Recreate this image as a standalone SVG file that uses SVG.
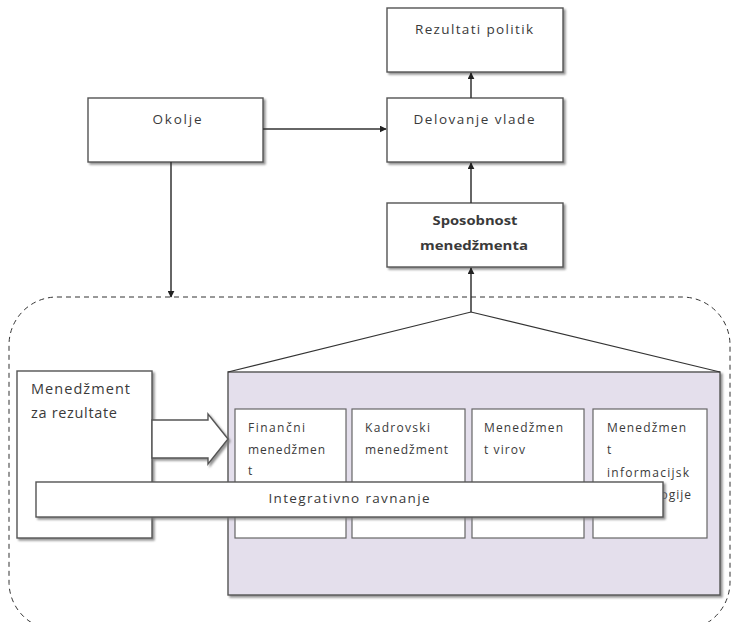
<svg xmlns="http://www.w3.org/2000/svg" width="733" height="622" viewBox="0 0 733 622">
<style>
.box{fill:#fff;stroke:#555;stroke-width:1.4}
.ibox{fill:#fff;stroke:#666;stroke-width:1.2}
.t{font-family:"Open Sans","Liberation Sans",Arial,sans-serif;fill:#3a3a3a}
.c{stroke:#333;stroke-width:1.5;fill:none}
</style>
<defs>
<filter id="sh" x="-10%" y="-10%" width="130%" height="130%">
<feDropShadow dx="2" dy="2" stdDeviation="0.8" flood-color="#777" flood-opacity="0.8"/>
</filter>
<marker id="ah" viewBox="0 0 10 10" refX="9" refY="5" markerWidth="7" markerHeight="7" orient="auto" markerUnits="userSpaceOnUse">
<path d="M0,0 L10,5 L0,10 z" fill="#222"/>
</marker>
</defs>
<rect x="0" y="0" width="733" height="622" fill="#fff"/>

<g id="container">
<rect x="9" y="297" width="721" height="333" rx="48" ry="48" fill="none" stroke="#333" stroke-width="1" stroke-dasharray="5 4"/>
</g>

<g id="rezultati">
<rect class="box" x="387" y="8" width="176" height="64" filter="url(#sh)"/>
<text class="t" x="474" y="34" font-size="13.5" text-anchor="middle" textLength="118" lengthAdjust="spacing">Rezultati politik</text>
</g>
<g id="delovanje">
<rect class="box" x="387" y="98" width="176" height="64" filter="url(#sh)"/>
<text class="t" x="474" y="124" font-size="13.5" text-anchor="middle" textLength="121" lengthAdjust="spacing">Delovanje vlade</text>
</g>
<g id="okolje">
<rect class="box" x="88" y="98" width="175" height="64" filter="url(#sh)"/>
<text class="t" x="177" y="124" font-size="13.5" text-anchor="middle" textLength="49" lengthAdjust="spacing">Okolje</text>
</g>
<g id="sposobnost">
<rect class="box" x="387" y="203" width="176" height="64" filter="url(#sh)"/>
<text class="t" x="475" y="225" font-size="13" font-weight="bold" text-anchor="middle" textLength="85" lengthAdjust="spacingAndGlyphs">Sposobnost</text>
<text class="t" x="474" y="250" font-size="13" font-weight="bold" text-anchor="middle" textLength="108" lengthAdjust="spacingAndGlyphs">menedžmenta</text>
</g>

<g id="podrocja">
<rect x="228" y="372" width="492" height="223" fill="#e4dfec" stroke="#555" stroke-width="1.4" filter="url(#sh)"/>
</g>
<g id="financni">
<rect class="ibox" x="235" y="409" width="111" height="129"/>
<text class="t" font-size="12"><tspan x="248" y="432" textLength="57" lengthAdjust="spacing">Finančni</tspan><tspan x="248" y="454" textLength="77" lengthAdjust="spacing">menedžmen</tspan><tspan x="248" y="475">t</tspan></text>
</g>
<g id="kadrovski">
<rect class="ibox" x="352" y="409" width="113" height="129"/>
<text class="t" font-size="12"><tspan x="365" y="432" textLength="65" lengthAdjust="spacing">Kadrovski</tspan><tspan x="365" y="454" textLength="83" lengthAdjust="spacing">menedžment</tspan></text>
</g>
<g id="viri">
<rect class="ibox" x="472" y="409" width="112" height="129"/>
<text class="t" font-size="12"><tspan x="484" y="432" textLength="79" lengthAdjust="spacing">Menedžmen</tspan><tspan x="484" y="454" textLength="41" lengthAdjust="spacing">t virov</tspan></text>
</g>
<g id="informacijska">
<rect class="ibox" x="593" y="409" width="114" height="129"/>
<text class="t" font-size="12"><tspan x="607" y="432" textLength="79" lengthAdjust="spacing">Menedžmen</tspan><tspan x="607" y="454">t</tspan><tspan x="607" y="477" textLength="82" lengthAdjust="spacing">informacijsk</tspan><tspan x="607" y="499" textLength="84" lengthAdjust="spacing">e tehnologije</tspan></text>
</g>

<g id="rezultati-menedzment">
<rect class="box" x="17" y="371" width="135" height="167" filter="url(#sh)"/>
<text class="t" font-size="14.5"><tspan x="31" y="394" textLength="99" lengthAdjust="spacing">Menedžment</tspan><tspan x="31" y="418" textLength="86" lengthAdjust="spacing">za rezultate</tspan></text>
</g>
<g id="blok-puscica">
<polygon points="152,420 208,420 208,414 228,439 208,464 208,458 152,458" fill="#fff" stroke="#555" stroke-width="1.4" filter="url(#sh)"/>
</g>
<g id="integrativno">
<rect class="box" x="36" y="482" width="627" height="35" filter="url(#sh)"/>
<text class="t" x="349" y="503" font-size="13.5" text-anchor="middle" textLength="161" lengthAdjust="spacing">Integrativno ravnanje</text>
</g>

<g id="connectors">
<line class="c" x1="263" y1="129" x2="386" y2="129" marker-end="url(#ah)"/>
<line class="c" x1="171" y1="162" x2="171" y2="297" marker-end="url(#ah)"/>
<line class="c" x1="471" y1="98" x2="471" y2="73" marker-end="url(#ah)"/>
<line class="c" x1="471" y1="203" x2="471" y2="163" marker-end="url(#ah)"/>
<line class="c" x1="471" y1="312" x2="471" y2="268" marker-end="url(#ah)"/>
<polyline points="228,372 471,312 720,372" fill="none" stroke="#333" stroke-width="1.2"/>
</g>
</svg>
